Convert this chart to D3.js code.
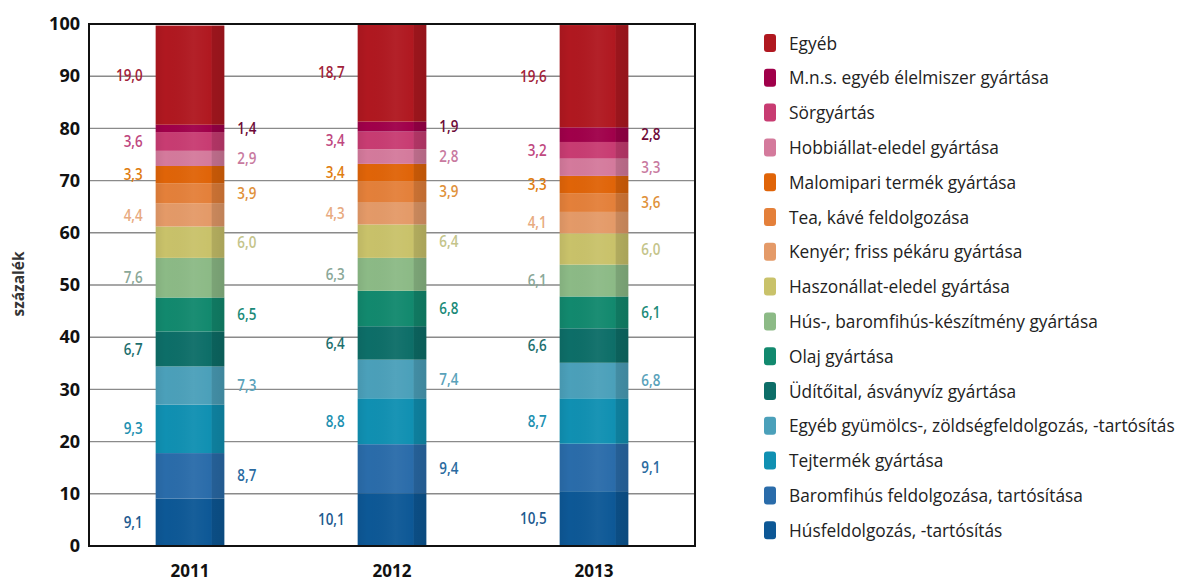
<!DOCTYPE html>
<html>
<head>
<meta charset="utf-8">
<script src="https://cdn.jsdelivr.net/npm/d3@7"></script>
<style>
  html, body { margin: 0; padding: 0; background: #fff; }
  svg { display: block; font-family: "Open Sans", "Noto Sans", sans-serif; }
</style>
</head>
<body>
<svg id="chart" width="1184" height="582"></svg>
<script>
// ---- data (stack order: bottom -> top) ----
const years = ["2011", "2012", "2013"];
const seriesNames = [
  "Húsfeldolgozás, -tartósítás",
  "Baromfihús feldolgozása, tartósítása",
  "Tejtermék gyártása",
  "Egyéb gyümölcs-, zöldségfeldolgozás, -tartósítás",
  "Üdítőital, ásványvíz gyártása",
  "Olaj gyártása",
  "Hús-, baromfihús-készítmény gyártása",
  "Haszonállat-eledel gyártása",
  "Kenyér; friss pékáru gyártása",
  "Tea, kávé feldolgozása",
  "Malomipari termék gyártása",
  "Hobbiállat-eledel gyártása",
  "Sörgyártás",
  "M.n.s. egyéb élelmiszer gyártása",
  "Egyéb"
];
const values2011 = [9.1, 8.7, 9.3, 7.3, 6.7, 6.5, 7.6, 6.0, 4.4, 3.9, 3.3, 2.9, 3.6, 1.4, 19.0];
const values2012 = [10.1, 9.4, 8.8, 7.4, 6.4, 6.8, 6.3, 6.4, 4.3, 3.9, 3.4, 2.8, 3.4, 1.9, 18.7];
const values2013 = [10.5, 9.1, 8.7, 6.8, 6.6, 6.1, 6.1, 6.0, 4.1, 3.6, 3.3, 3.3, 3.2, 2.8, 19.6];
const yTicks = [0, 10, 20, 30, 40, 50, 60, 70, 80, 90, 100];
const yTitle = "százalék";

const fillColors = ["#0d5896", "#2a6caa", "#1090b2", "#4ba0ba", "#0d6e68", "#12896e", "#8cba86",
  "#c9c26a", "#e49a68", "#e4803a", "#e06408", "#d47a9c", "#c83c72", "#a0004a", "#b01820"];
const labelColors = ["#1d5a90", "#2a6aa0", "#2090b0", "#5aa2ba", "#1d6f6e", "#1a8a78", "#8aa898",
  "#c4c48a", "#e8aa80", "#e0913a", "#e07d10", "#c87aa0", "#c04880", "#6e0a38", "#a21f3a"];

const valuesByYear = [values2011, values2012, values2013];

// ---- layout ----
const svg = d3.select("#chart");
const mL = 89, mR = 695, mT = 24, mB = 546;

const x = d3.scaleBand().domain(years).range([mL, mR]).paddingInner(0.66).paddingOuter(0.33);
const y = d3.scaleLinear().domain([0, 100]).range([mB, mT]);

// build stacked table
const table = years.map((yr, i) => {
  const row = { year: yr };
  seriesNames.forEach((s, j) => row[s] = valuesByYear[i][j]);
  return row;
});
const stacked = d3.stack().keys(seriesNames)(table);

// gradient overlay for bar shading
const defs = svg.append("defs");
const grad = defs.append("linearGradient").attr("id", "shade").attr("x1", "0").attr("x2", "1").attr("y1", "0").attr("y2", "0");
[[0, "#000", 0.06], [0.14, "#000", 0.0], [0.55, "#fff", 0.04], [0.8, "#fff", 0.0], [0.82, "#000", 0.12], [1, "#000", 0.16]]
  .forEach(([o, c, a]) => grad.append("stop").attr("offset", o).attr("stop-color", c).attr("stop-opacity", a));

// gridlines
svg.append("g").selectAll("line").data(yTicks.filter(t => t > 0 && t < 100)).join("line")
  .attr("x1", mL).attr("x2", mR)
  .attr("y1", d => y(d)).attr("y2", d => y(d))
  .attr("stroke", "#8a8a8a").attr("stroke-width", 1.4);

// bars
const layers = svg.append("g").selectAll("g").data(stacked).join("g")
  .attr("fill", (d, i) => fillColors[i]);
layers.selectAll("rect").data(d => d).join("rect")
  .attr("x", d => x(d.data.year))
  .attr("width", x.bandwidth())
  .attr("y", d => y(d[1]))
  .attr("height", d => y(d[0]) - y(d[1]));

// shading overlay per bar
svg.append("g").selectAll("rect").data(years).join("rect")
  .attr("x", d => x(d)).attr("width", x.bandwidth())
  .attr("y", (d, i) => y(d3.sum(valuesByYear[i])))
  .attr("height", (d, i) => y(0) - y(d3.sum(valuesByYear[i])))
  .attr("fill", "url(#shade)");

// value labels (horizontally condensed, like the original typeface)
const fmt = v => d3.format(".1f")(v).replace(".", ",");
const labelG = svg.append("g").attr("font-size", 16).attr("font-weight", 600);
stacked.forEach((layer, j) => {
  const onLeft = j % 2 === 0;
  layer.forEach((d, i) => {
    const v = valuesByYear[i][j];
    const px = onLeft ? x(d.data.year) - 13 : x(d.data.year) + x.bandwidth() + 13;
    labelG.append("g").attr("transform", `translate(${px},${y((d[0] + d[1]) / 2)}) scale(0.84,1)`)
      .append("text")
      .attr("dy", "0.35em")
      .attr("text-anchor", onLeft ? "end" : "start")
      .attr("fill", labelColors[j])
      .text(fmt(v));
  });
});

// frame
svg.append("rect").attr("x", mL).attr("y", mT).attr("width", mR - mL).attr("height", mB - mT)
  .attr("fill", "none").attr("stroke", "#111").attr("stroke-width", 2);

// y axis
const yAxis = svg.append("g").attr("transform", `translate(${mL},0)`)
  .call(d3.axisLeft(y).tickValues(yTicks).tickSize(0).tickPadding(9).tickFormat(d3.format("d")));
yAxis.select(".domain").remove();
yAxis.selectAll("text").attr("font-size", 18).attr("font-weight", 700).attr("fill", "#111")
  .attr("font-family", "'Open Sans', sans-serif");

// x axis
const xAxis = svg.append("g").attr("transform", `translate(0,${mB})`)
  .call(d3.axisBottom(x).tickSize(0).tickPadding(19));
xAxis.select(".domain").remove();
xAxis.selectAll("text").attr("font-size", 17).attr("font-weight", 700).attr("fill", "#111")
  .attr("font-family", "'Open Sans', sans-serif");

// y title
svg.append("text").attr("transform", `translate(24,284) rotate(-90)`)
  .attr("text-anchor", "middle").attr("font-size", 15.5).attr("font-weight", 700).attr("fill", "#333")
  .text(yTitle);

// legend (top = last series)
const legendOrder = seriesNames.map((s, i) => i).reverse();
const lg = svg.append("g");
const rows = lg.selectAll("g").data(legendOrder).join("g")
  .attr("transform", (d, k) => `translate(764,${43 + k * 34.8})`);
rows.append("rect").attr("x", 0).attr("y", -9).attr("width", 12).attr("height", 18).attr("rx", 3)
  .attr("fill", d => fillColors[d]);
const textHolders = rows.append("g").attr("transform", "translate(25,0)");
const texts = textHolders.append("text").attr("dy", "0.36em").attr("font-size", 18.5).attr("fill", "#222")
  .text(d => seriesNames[d]);
// condense horizontally so the longest legend entry spans the reference width
let maxW = 0;
texts.each(function () { maxW = Math.max(maxW, this.getComputedTextLength()); });
if (maxW > 0) textHolders.attr("transform", `translate(25,0) scale(${386 / maxW},1)`);
</script>
</body>
</html>
